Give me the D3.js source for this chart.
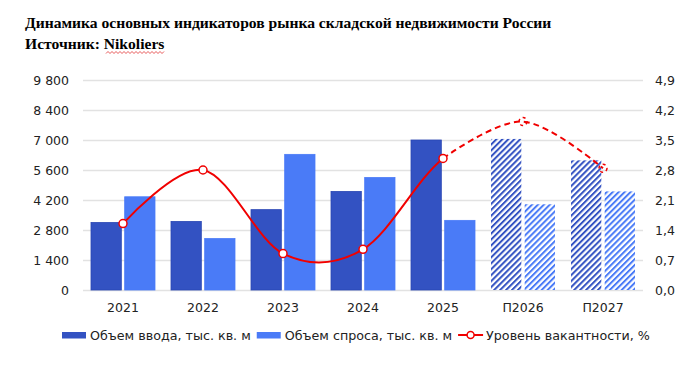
<!DOCTYPE html>
<html>
<head>
<meta charset="utf-8">
<script src="https://cdn.jsdelivr.net/npm/d3@7"></script>
<style>
  body { margin: 0; background: #fff; }
  svg { display: block; }
</style>
</head>
<body>
<div id="chart"></div>
<script>
// data
const years = ['2021', '2022', '2023', '2024', '2025', 'П2026', 'П2027'];
const supply = [3150, 3200, 3750, 4600, 7000, 7050, 6050];   // Объем ввода
const demand = [4350, 2400, 6330, 5250, 3250, 4000, 4600];   // Объем спроса
const vacancy = [1.55, 2.8, 0.85, 0.95, 3.07, 3.93, 2.84];   // Уровень вакантности
const forecastFrom = 5; // index of first forecast year
const leftTicks = [0, 1400, 2800, 4200, 5600, 7000, 8400, 9800];
const rightTicks = [0, 0.7, 1.4, 2.1, 2.8, 3.5, 4.2, 4.9];

const width = 700, height = 367;
const margin = { top: 80, right: 57, bottom: 77, left: 83 };
const innerW = width - margin.left - margin.right;
const innerH = height - margin.top - margin.bottom;

const darkBlue = '#3352c2';
const lightBlue = '#4a7bf7';
const red = '#f00000';
const font = '"DejaVu Sans", Verdana, sans-serif';

const svg = d3.select('#chart')
  .append('svg')
  .attr('width', width)
  .attr('height', height);

// hatch patterns for the forecast bars
const defs = svg.append('defs');
[['hatchDark', darkBlue], ['hatchLight', lightBlue]].forEach(([id, c]) => {
  const p = defs.append('pattern')
    .attr('id', id)
    .attr('patternUnits', 'userSpaceOnUse')
    .attr('width', 4.2)
    .attr('height', 4.2)
    .attr('patternTransform', 'rotate(45)');
  p.append('rect').attr('width', 4.2).attr('height', 4.2).attr('fill', '#fff');
  p.append('rect').attr('x', 0).attr('width', 2).attr('height', 4.2).attr('fill', c);
});

// title
svg.append('text')
  .attr('x', 25).attr('y', 28)
  .style('font-family', '"Liberation Serif", "Times New Roman", serif')
  .style('font-weight', 'bold')
  .style('font-size', '15.6px')
  .text('Динамика основных индикаторов рынка складской недвижимости России');
svg.append('text')
  .attr('x', 25).attr('y', 49)
  .style('font-family', '"Liberation Serif", "Times New Roman", serif')
  .style('font-weight', 'bold')
  .style('font-size', '15.6px')
  .text('Источник: Nikoliers');

// spell-check squiggle under "Nikoliers"
const squiggle = d3.range(106, 166, 2).map((x, i) => [x, i % 2 ? 51.5 : 53.5]);
svg.append('path')
  .attr('d', d3.line()(squiggle))
  .attr('fill', 'none')
  .attr('stroke', '#e03030')
  .attr('stroke-width', 0.8);

const g = svg.append('g')
  .attr('transform', `translate(${margin.left},${margin.top})`);

const x0 = d3.scaleBand().domain(years).range([0, innerW]).paddingInner(0).paddingOuter(0);
const x1 = d3.scaleBand().domain(['supply', 'demand']).range([8, x0.bandwidth() - 8]).paddingInner(0.1);
const yLeft = d3.scaleLinear().domain([0, 9800]).range([innerH, 0]);
const yRight = d3.scaleLinear().domain([0, 4.9]).range([innerH, 0]);

// grid lines + left axis
g.append('g')
  .call(d3.axisLeft(yLeft)
    .tickValues(leftTicks)
    .tickSize(-innerW)
    .tickPadding(14)
    .tickFormat(d => d3.format(',')(d).replace(',', ' ')))
  .call(a => a.select('.domain').remove())
  .call(a => a.selectAll('line').attr('stroke', '#e2e2e2').attr('stroke-width', 1.3))
  .call(a => a.selectAll('text')
    .style('font-family', font).style('font-size', '12.5px').attr('fill', '#222'));

// right axis
g.append('g')
  .attr('transform', `translate(${innerW},0)`)
  .call(d3.axisRight(yRight)
    .tickValues(rightTicks)
    .tickSize(0)
    .tickPadding(12)
    .tickFormat(d => d3.format('.1f')(d).replace('.', ',')))
  .call(a => a.select('.domain').remove())
  .call(a => a.selectAll('text')
    .style('font-family', font).style('font-size', '12.5px').attr('fill', '#222'));

// x axis labels
g.append('g')
  .attr('transform', `translate(0,${innerH})`)
  .call(d3.axisBottom(x0).tickSize(0).tickPadding(13))
  .call(a => a.select('.domain').remove())
  .call(a => a.selectAll('text')
    .style('font-family', font).style('font-size', '12.5px').attr('fill', '#222'));

// bars
const rows = years.map((y, i) => ({ year: y, i, supply: supply[i], demand: demand[i] }));
const groups = g.selectAll('.cat')
  .data(rows)
  .enter()
  .append('g')
  .attr('class', 'cat')
  .attr('transform', d => `translate(${x0(d.year)},0)`);

groups.selectAll('rect')
  .data(d => [
    { key: 'supply', v: d.supply, f: d.i >= forecastFrom },
    { key: 'demand', v: d.demand, f: d.i >= forecastFrom }
  ])
  .enter()
  .append('rect')
  .attr('x', d => x1(d.key))
  .attr('width', x1.bandwidth())
  .attr('y', d => yLeft(d.v))
  .attr('height', d => innerH - yLeft(d.v))
  .attr('fill', d => d.f
    ? (d.key === 'supply' ? 'url(#hatchDark)' : 'url(#hatchLight)')
    : (d.key === 'supply' ? darkBlue : lightBlue))
  .attr('stroke', d => d.f ? 'none' : (d.key === 'supply' ? '#2a46b4' : '#4a7bf7'))
  .attr('stroke-width', 0.8);

// vacancy line (smoothed), solid for actuals and dashed for forecast
const cx = i => x0(years[i]) + x0.bandwidth() / 2;
const pts = vacancy.map((v, i) => [cx(i), yRight(v)]);
const line = d3.line().curve(d3.curveCardinal.tension(0));

// solid part is the full curve clipped at the last actual year, so the shape stays continuous
defs.append('clipPath').attr('id', 'clipActual')
  .append('rect').attr('x', -margin.left).attr('y', -margin.top)
  .attr('width', cx(forecastFrom - 1) + margin.left).attr('height', height);

g.append('path')
  .attr('d', line(pts))
  .attr('fill', 'none')
  .attr('stroke', red)
  .attr('stroke-width', 2)
  .attr('clip-path', 'url(#clipActual)');
g.append('path')
  .attr('d', line(pts.slice(forecastFrom - 1)))
  .attr('fill', 'none')
  .attr('stroke', red)
  .attr('stroke-width', 2)
  .attr('stroke-dasharray', '6,4');

g.selectAll('.dot')
  .data(vacancy)
  .enter()
  .append('circle')
  .attr('class', 'dot')
  .attr('cx', (d, i) => cx(i))
  .attr('cy', d => yRight(d))
  .attr('r', 4)
  .attr('fill', (d, i) => i >= forecastFrom ? 'none' : '#fff')
  .attr('stroke', red)
  .attr('stroke-width', 1.5)
  .attr('stroke-dasharray', (d, i) => i >= forecastFrom ? '3,3' : null);

// legend
const legendItems = [
  { label: 'Объем ввода, тыс. кв. м', type: 'rect', color: darkBlue },
  { label: 'Объем спроса, тыс. кв. м', type: 'rect', color: lightBlue },
  { label: 'Уровень вакантности, %', type: 'line', color: red }
];
const legend = svg.append('g').attr('transform', 'translate(62,335)');
let lx = 0;
legendItems.forEach(item => {
  const it = legend.append('g').attr('transform', `translate(${lx},0)`);
  if (item.type === 'rect') {
    it.append('rect').attr('x', 0).attr('y', -3).attr('width', 24).attr('height', 6.5).attr('fill', item.color);
  } else {
    it.append('line').attr('x1', 0).attr('x2', 25).attr('y1', 0).attr('y2', 0)
      .attr('stroke', item.color).attr('stroke-width', 2);
    it.append('circle').attr('cx', 12.5).attr('cy', 0).attr('r', 3.5)
      .attr('fill', '#fff').attr('stroke', item.color).attr('stroke-width', 1.5);
  }
  const t = it.append('text')
    .attr('x', 28).attr('y', 4.5)
    .style('font-family', font).style('font-size', '12.7px').attr('fill', '#222')
    .text(item.label);
  lx += 28 + t.node().getComputedTextLength() + 6;
});
</script>
</body>
</html>
